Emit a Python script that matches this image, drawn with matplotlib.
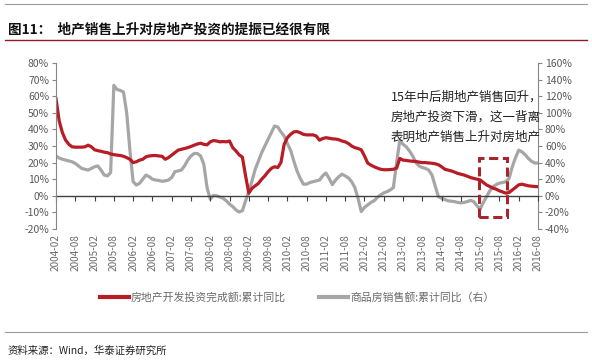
import matplotlib
matplotlib.use("Agg")
import matplotlib.pyplot as plt
from matplotlib.patches import Rectangle
from matplotlib.lines import Line2D

plt.rcParams['font.family'] = ['Noto Sans CJK SC', 'DejaVu Sans']

# ---- data (monthly, 2004-02 .. 2016-08) ----
months = list(range(151))
investment = [
    58.5, 45, 38, 33.5, 31, 29.5, 29.3, 29.3, 29.3, 29.5,
    30.5, 29.5, 27.7, 27.2, 26.8, 26.3, 26, 25.2, 24.8, 24.5,
    24.3, 23.8, 23, 22, 20, 20.5, 21.5, 22, 23.5, 24,
    24.2, 24.3, 24, 23.8, 22, 23, 24.5, 26, 27.5, 28,
    28.5, 29, 29.7, 30.5, 31.2, 31.7, 31, 30.7, 32.5, 33.3,
    33, 32.5, 32.7, 32.5, 33, 29, 27, 24.7, 23.3, 12,
    1.6, 4.5, 6, 7.5, 10, 12, 14.5, 16.5, 17.5, 17,
    20, 31, 35, 37, 38.5, 38.7, 38, 37, 36.7, 36.7,
    36.7, 36, 33.5, 34.5, 35, 34.7, 34.3, 34.2, 33.8, 33,
    32.5, 31.5, 30, 29, 28.5, 27.7, 24, 19.7, 18.5, 17.5,
    16.7, 16, 15.7, 15.7, 15.8, 16, 16.7, 22.5, 21.5, 21.3,
    21, 20.8, 20.7, 20.3, 20, 20, 19.8, 19.6, 19.3, 18.7,
    17.5, 16, 15.5, 15, 14.3, 13.5, 13, 12.5, 11.8, 11,
    10.5, 10, 9.6, 8, 6.5, 5.6, 4.6, 4, 3, 2.3,
    1.6, 2, 3.5, 5, 6.6, 7, 6.5, 6, 5.8, 5.6, 5.5,
]
sales = [
    48, 45.5, 44, 43, 42, 41, 39, 36, 33, 32,
    31, 33, 35, 36, 31, 25, 24, 28, 133, 128,
    127, 125, 100, 55, 17, 13, 15, 20, 25, 23,
    20, 19, 18.5, 17.5, 18, 19, 22, 29, 30, 31,
    36, 43, 48, 51, 51, 48, 38, 10, -4, 0.5,
    0, -1.5, -3, -6, -10, -13, -17, -19.5, -18, -6,
    5, 18, 32, 42, 52, 60, 68, 76, 84, 83,
    77, 72, 63, 55, 42, 30, 21, 14, 14, 16,
    17, 18, 19, 24, 27.5, 21, 13.5, 19, 23, 26,
    24, 21.5, 17, 10, -3, -19, -14, -11, -8, -6,
    -2, 1, 3.5, 5, 7, 10, 40, 67, 62, 59,
    54, 48, 40, 36, 34, 33, 31, 25, 12, -1,
    -3, -4.5, -6, -6.5, -7, -8, -8.5, -8, -7, -5.5,
    -7, -12, -16, -8, -1, 6, 11, 13.5, 15.3, 16,
    17, 21, 35, 46, 55, 53, 49.5, 45, 41.5, 39.5, 39.5,
]
tick_months = list(range(0, 151, 6))
tick_labels = [
    "2004-02", "2004-08", "2005-02", "2005-08", "2006-02", "2006-08",
    "2007-02", "2007-08", "2008-02", "2008-08", "2009-02", "2009-08",
    "2010-02", "2010-08", "2011-02", "2011-08", "2012-02", "2012-08",
    "2013-02", "2013-08", "2014-02", "2014-08", "2015-02", "2015-08",
    "2016-02", "2016-08",
]
left_ticks = [-20, -10, 0, 10, 20, 30, 40, 50, 60, 70, 80]
right_ticks = [-40, -20, 0, 20, 40, 60, 80, 100, 120, 140, 160]
highlight_months = (131.5, 140.3)
highlight_range = (-12.5, 22.7)

RED = '#B81C25'
GRAY = '#A6A6A6'
AXC = '#868686'
TXT = '#595959'

fig = plt.figure(figsize=(5.92, 3.62), dpi=100)
ax = fig.add_axes([56/592, 1-229/362, (538-56)/592, (229-63)/362])
ax2 = ax.twinx()
ax.set_zorder(ax2.get_zorder() + 1)
ax.patch.set_visible(False)

ax2.plot(months, sales, color=GRAY, lw=2.3, solid_joinstyle='round')
ax.plot(months, investment, color=RED, lw=2.3, solid_joinstyle='round')

ax.set_xlim(0, 150)
ax.set_ylim(-20, 80)
ax2.set_ylim(-40, 160)
ax.set_yticks(left_ticks)
ax.set_yticklabels([f"{v}%" for v in left_ticks])
ax2.set_yticks(right_ticks)
ax2.set_yticklabels([f"{v}%" for v in right_ticks])

for a in (ax, ax2):
    a.spines['top'].set_visible(False)
    a.spines['bottom'].set_visible(False)
    a.spines['left'].set_color(AXC)
    a.spines['right'].set_color(AXC)
ax.spines['right'].set_visible(False)
ax2.spines['left'].set_visible(False)

ax.tick_params(axis='y', direction='out', length=3, color=AXC, labelsize=7.5, labelcolor=TXT, pad=2)
ax2.tick_params(axis='y', direction='out', length=3, color=AXC, labelsize=7.5, labelcolor=TXT, pad=2)

ax.set_xticks(tick_months)
ax.set_xticklabels(tick_labels, rotation=90, fontsize=7.2, color='#6a6a6a')
ax.tick_params(axis='x', length=0, pad=4)

sec = ax.secondary_xaxis(0.2)
sec.set_xticks(tick_months)
sec.tick_params(axis='x', direction='out', length=3.5, color='#404040', labelbottom=False, labeltop=False)
sec.spines['bottom'].set_color('#404040')
sec.spines['bottom'].set_linewidth(1.0)

rect = Rectangle((highlight_months[0], highlight_range[0]),
                 highlight_months[1]-highlight_months[0],
                 highlight_range[1]-highlight_range[0],
                 fill=False, edgecolor='#A52630', lw=2.2, ls=(0, (3, 1.5)), zorder=5)
ax.add_patch(rect)

ann = ["15年中后期地产销售回升，", "房地产投资下滑，这一背离", "表明地产销售上升对房地产"]
for i, s in enumerate(ann):
    fig.text(391/592, 1-(97+20*i)/362, s, fontsize=9.0, color='#222222', va='center', ha='left')

# title area
fig.add_artist(Line2D([5/592, 587/592], [1-4/362, 1-4/362], color='#9a9a9a', lw=0.8))
fig.text(8/592, 1-30/362, "图11：  地产销售上升对房地产投资的提振已经很有限",
         fontsize=9.8, fontweight='bold', color='#111111', va='center', ha='left')
fig.add_artist(Line2D([5/592, 587/592], [1-40/362, 1-40/362], color='#8B1A2B', lw=1.0))

# legend
handles = [Line2D([], [], color=RED, lw=3), Line2D([], [], color=GRAY, lw=3)]
labels = ["房地产开发投资完成额:累计同比", "商品房销售额:累计同比（右）"]
fig.legend(handles, labels, loc='center', bbox_to_anchor=(297/592, 1-297/362), ncol=2,
           frameon=False, fontsize=7.8, handlelength=2.7, handletextpad=0.2, columnspacing=3.0,
           labelcolor='#6a6a6a')

fig.add_artist(Line2D([5/592, 587/592], [1-332/362, 1-332/362], color='#9a9a9a', lw=0.8))
fig.text(8/592, 1-351/362, "资料来源：Wind，华泰证券研究所", fontsize=7.5, style='italic',
         color='#222222', va='center', ha='left')

fig.savefig("out.png", dpi=100)
